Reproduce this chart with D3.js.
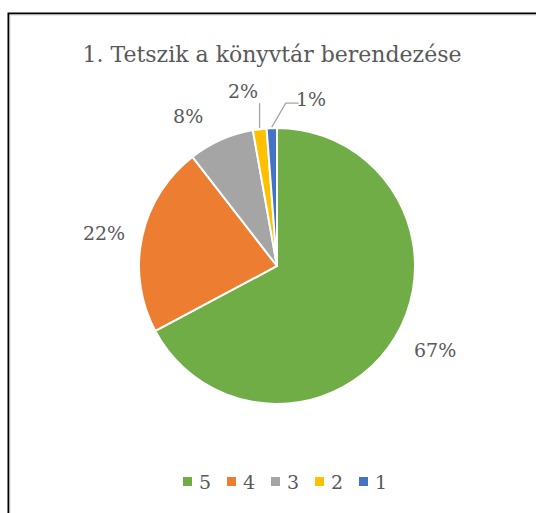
<!DOCTYPE html>
<html>
<head>
<meta charset="utf-8">
<script src="https://cdn.jsdelivr.net/npm/d3@7"></script>
<style>
  body { margin: 0; background: #fff; }
  text { font-family: "DejaVu Serif", serif; fill: #595959; }
</style>
</head>
<body>
<svg width="536" height="513"></svg>
<script>
const width = 536;
const height = 513;

const title = "1. Tetszik a könyvtár berendezése";
const categories = ["5", "4", "3", "2", "1"];
const values = [67.2, 22.3, 7.7, 1.6, 1.2];
const labels = ["67%", "22%", "8%", "2%", "1%"];
const colors = ["#70AD47", "#ED7D31", "#A5A5A5", "#FFC000", "#4472C4"];

const cx = 277;
const cy = 266;
const radius = 138;

const svg = d3.select("svg");

// chart frame
svg.append("rect")
  .attr("x", 8.5).attr("y", 13.5)
  .attr("width", 600).attr("height", 600)
  .attr("fill", "none")
  .attr("stroke", "#000")
  .attr("stroke-width", 2);
svg.append("rect")
  .attr("x", 10).attr("y", 15)
  .attr("width", 600).attr("height", 600)
  .attr("fill", "none")
  .attr("stroke", "#d9d9d9")
  .attr("stroke-width", 1);

svg.append("text")
  .attr("x", 272)
  .attr("y", 62)
  .attr("text-anchor", "middle")
  .attr("font-size", 22)
  .text(title);

const color = d3.scaleOrdinal().domain(categories).range(colors);

const pie = d3.pie().sort(null).value(d => d.value);
const data = categories.map((c, i) => ({ cat: c, value: values[i], label: labels[i] }));
const arcs = pie(data);

const arc = d3.arc().innerRadius(0).outerRadius(radius);

const g = svg.append("g").attr("transform", `translate(${cx},${cy})`);

g.selectAll("path")
  .data(arcs)
  .join("path")
  .attr("d", arc)
  .attr("fill", d => color(d.data.cat))
  .attr("stroke", "#fff")
  .attr("stroke-width", 2);

// label placement: distance from centre and angular nudge per slice
const labelPos = [
  { r: 179, da: -0.052 },
  { r: 176, da: -0.026 },
  { r: 174, da: -0.118 },
  { r: 178, da: -0.066 },
  { r: 170, da: 0.239 }
];

const pt = (a, r) => [Math.sin(a) * r, -Math.cos(a) * r];

arcs.forEach((d, i) => {
  const mid = (d.startAngle + d.endAngle) / 2;
  const [x, y] = pt(mid + labelPos[i].da, labelPos[i].r);
  g.append("text")
    .attr("x", x)
    .attr("y", y)
    .attr("text-anchor", "middle")
    .attr("dy", "0.35em")
    .attr("font-size", 19)
    .text(d.data.label);
});

// leader lines for the two thin slices
const leader = d3.line();
{
  const d = arcs[3];
  const mid = (d.startAngle + d.endAngle) / 2;
  const p0 = pt(mid, radius + 1);
  g.append("path")
    .attr("d", leader([p0, [p0[0], p0[1] - 25]]))
    .attr("fill", "none").attr("stroke", "#a6a6a6").attr("stroke-width", 1.3);
}
{
  const d = arcs[4];
  const mid = (d.startAngle + d.endAngle) / 2;
  const p0 = pt(mid, radius + 1);
  const p1 = [p0[0] + 14, p0[1] - 24];
  g.append("path")
    .attr("d", leader([p0, p1, [p1[0] + 13, p1[1]]]))
    .attr("fill", "none").attr("stroke", "#a6a6a6").attr("stroke-width", 1.3);
}

// legend
const legendX = d3.scalePoint().domain(categories).range([183, 359]);
const legend = svg.append("g")
  .selectAll("g")
  .data(categories)
  .join("g")
  .attr("transform", d => `translate(${legendX(d)},482)`);

legend.append("rect")
  .attr("x", 0).attr("y", -5)
  .attr("width", 9).attr("height", 9)
  .attr("fill", d => color(d));

legend.append("text")
  .attr("x", 16)
  .attr("y", 0)
  .attr("dy", "0.35em")
  .attr("font-size", 19)
  .text(d => d);
</script>
</body>
</html>
